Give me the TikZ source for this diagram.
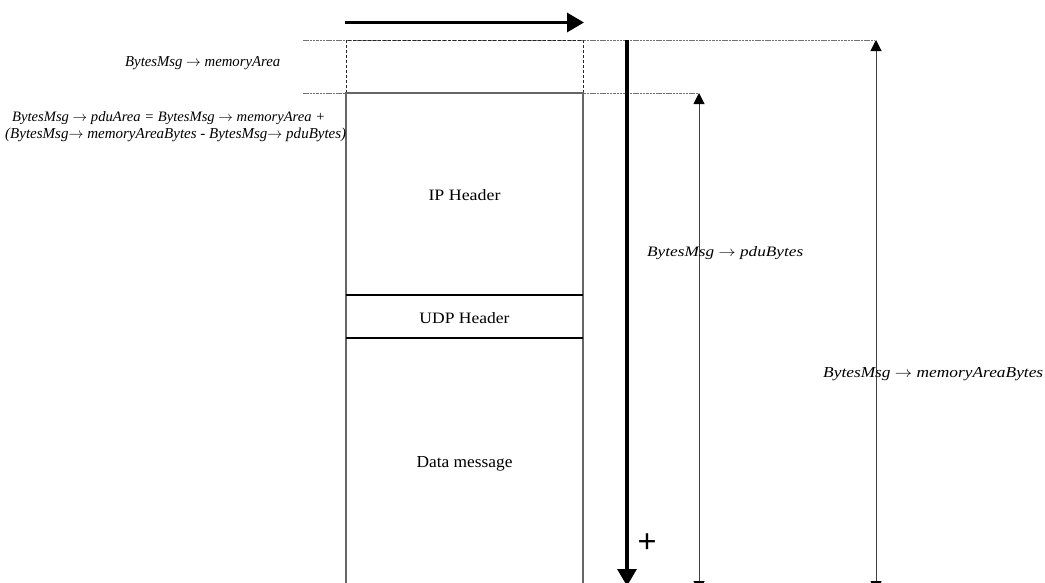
\documentclass[tikz,border=0pt]{standalone}
\usepackage{fontspec}
\setmainfont{Liberation Serif}
\newfontfamily\plusfont{Liberation Sans}
\usetikzlibrary{arrows.meta}
% text stretched to a given width and height (pt)
\newcommand{\fitlbl}[3]{\resizebox{#1pt}{#2pt}{#3}}
\newcommand{\ar}{$\rightarrow$}
\begin{document}
\begin{tikzpicture}[x=1pt,y=-1pt,
  dotline/.style={black!55, line width=0.8pt, dash pattern=on 2.5pt off 0.8pt},
  dashbox/.style={black!85, line width=0.8pt, dash pattern=on 3pt off 2pt},
  boxedge/.style={black!60, line width=1.2pt},
  divider/.style={black, line width=1.8pt},
  bigarrow/.style={line width=3.2pt, -{Triangle[length=17pt,width=19pt]}},
  dimarrow/.style={black!75, line width=1pt,
    {Triangle[length=11pt,width=11pt,fill=black,color=black]}-{Triangle[length=11pt,width=11pt,fill=black,color=black]}},
  lbl/.style={inner sep=0pt}]
\useasboundingbox (0,0) rectangle (1045,582);
\clip (0,0) rectangle (1045,582);

% reference points
\coordinate (memL)  at (346,40);
\coordinate (memR)  at (583,40);
\coordinate (pduL)  at (346,93);
\coordinate (pduR)  at (583,93);
\coordinate (udpL)  at (346,295);
\coordinate (udpR)  at (583,295);
\coordinate (dataL) at (346,338);
\coordinate (dataR) at (583,338);
\coordinate (botL)  at (346,600);
\coordinate (botR)  at (583,600);

% guide lines
\coordinate (g1a) at (303,40);  \coordinate (g1b) at (874,40);
\coordinate (g2a) at (303,93);  \coordinate (g2b) at (698,93);
\draw[dotline] (g1a) -- (g1b);
\draw[dotline] (g2a) -- (g2b);

% reserved memory area (dashed)
\draw[dashbox] (pduL) -- (memL) -- (memR) -- (pduR);

% message buffer
\draw[boxedge] (botL) -- (pduL) -- (pduR) -- (botR);
\draw[divider] (udpL) -- (udpR);
\draw[divider] (dataL) -- (dataR);

\node[lbl] (ip)   at (464.5,195) {\fitlbl{72}{11}{IP Header}};
\node[lbl] (udp)  at (464.5,318) {\fitlbl{90}{11}{UDP Header}};
\node[lbl] (data) at (464.5,464) {\fitlbl{96}{11}{Data message}};

% direction arrows
\coordinate (hA) at (345,22.5);  \coordinate (hB) at (584,22.5);
\draw[bigarrow] (hA) -- (hB);
\coordinate (vA) at (627,40);    \coordinate (vB) at (627,586);
\draw[bigarrow] (vA) -- (vB);
\node[lbl] (plus) at (647,543) {\resizebox{19pt}{!}{\plusfont +}};

% size arrows
\coordinate (pA) at (699,93);    \coordinate (pB) at (699,592);
\draw[dimarrow] (pA) -- (pB);
\coordinate (mA) at (876,40);    \coordinate (mB) at (876,592);
\draw[dimarrow] (mA) -- (mB);

% labels
\node[lbl, anchor=base west] (memArea) at (125,66)
  {\fitlbl{155}{10}{\itshape BytesMsg \ar\ memoryArea}};
\node[lbl, anchor=base west] (pduArea1) at (12,121)
  {\fitlbl{313}{10}{\itshape BytesMsg \ar\ pduArea = BytesMsg \ar\ memoryArea +}};
\node[lbl, anchor=base west] (pduArea2) at (5,138)
  {\fitlbl{341}{10.5}{\itshape (BytesMsg\ar\ memoryAreaBytes - BytesMsg\ar\ pduBytes)}};
\node[lbl, anchor=base west] (pduBytes) at (647,256)
  {\fitlbl{156}{10}{\itshape BytesMsg \ar\ pduBytes}};
\node[lbl, anchor=base west] (memBytes) at (823,377)
  {\fitlbl{220}{10}{\itshape BytesMsg \ar\ memoryAreaBytes}};
\end{tikzpicture}
\end{document}
